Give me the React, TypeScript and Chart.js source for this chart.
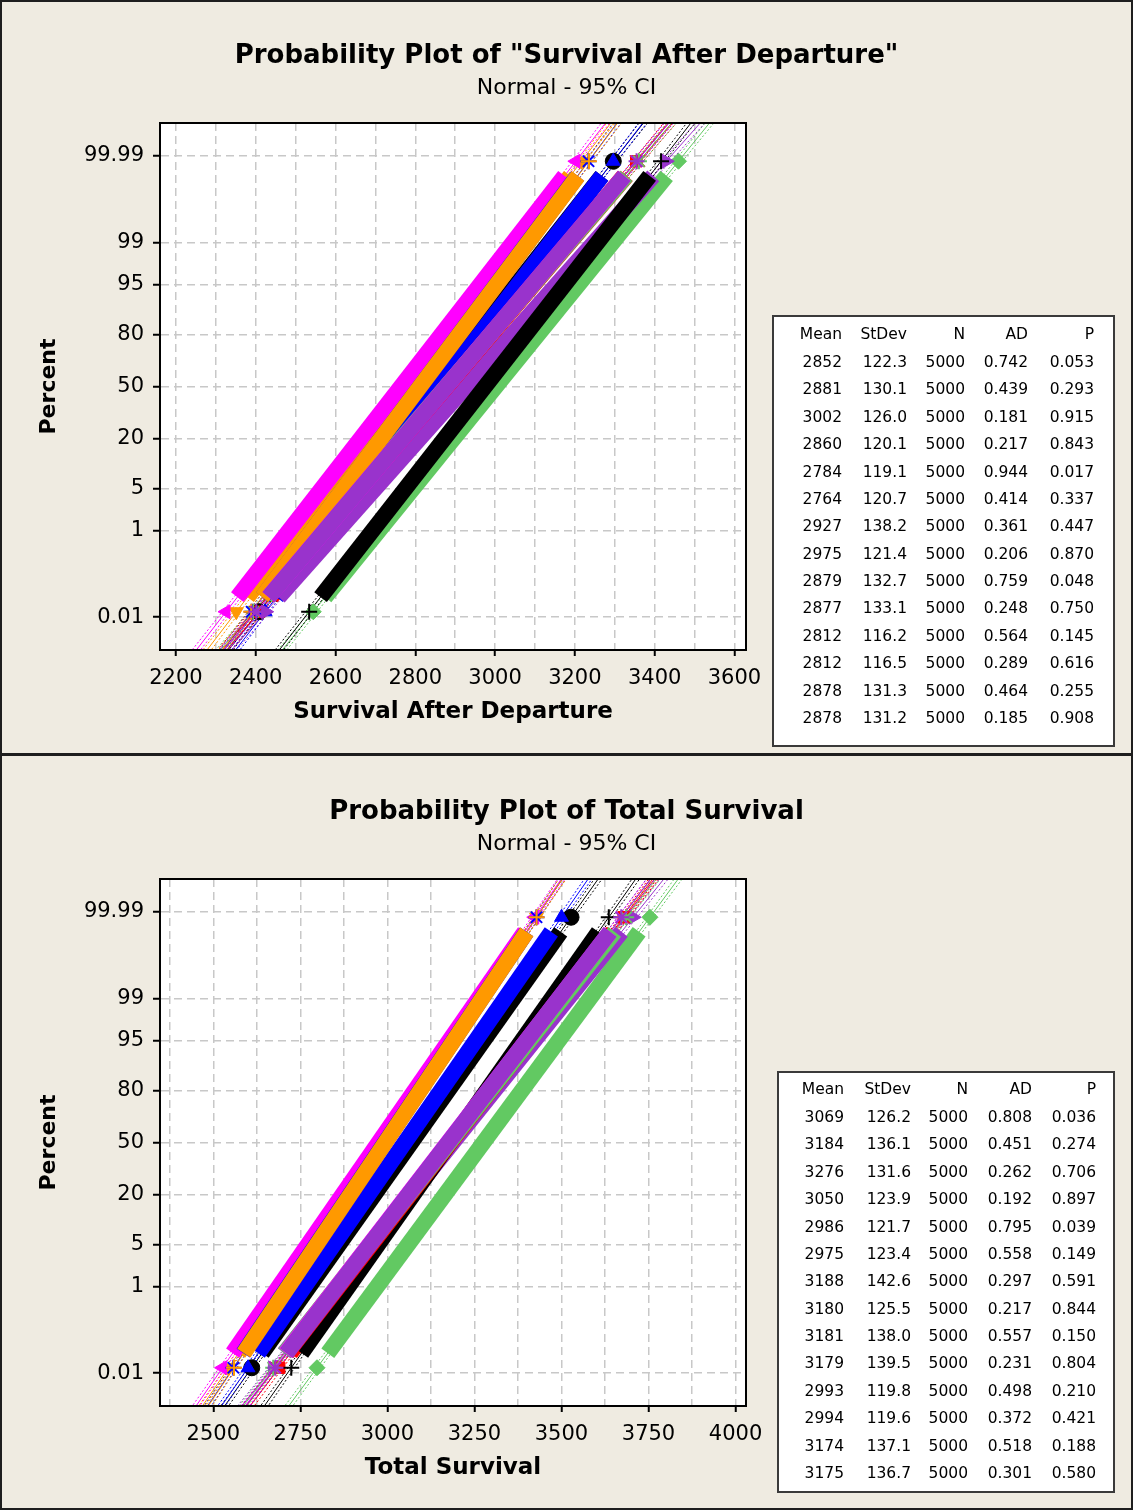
import React, { useEffect, useRef } from 'react';
import { Chart, registerables } from 'chart.js';

Chart.register(...registerables);

const FONT = "'DejaVu Sans', Verdana, sans-serif";
const BEIGE = '#EFEBE1';

// ---------- shared axis data ----------
const PERCENT_TICKS = [0.01, 1, 5, 20, 50, 80, 95, 99, 99.99];
const PERCENT_LABELS = ['0.01', '1', '5', '20', '50', '80', '95', '99', '99.99'];
const SUBTITLE = 'Normal - 95% CI';
const Y_TITLE = 'Percent';
const TABLE_HEADERS = ['Mean', 'StDev', 'N', 'AD', 'P'];

const SERIES_COLORS = ['#000000', '#FF0000', '#62C962', '#0000FF', '#FF9900', '#FF00FF', '#9933CC'];
const SERIES_SYMBOLS = [
  { style: 'circle', rot: 0, open: false },
  { style: 'rect', rot: 0, open: false },
  { style: 'rectRot', rot: 0, open: false },
  { style: 'triangle', rot: 0, open: false },
  { style: 'triangle', rot: 180, open: false },
  { style: 'triangle', rot: 270, open: false },
  { style: 'triangle', rot: 90, open: false },
  { style: 'cross', rot: 0, open: true },
  { style: 'crossRot', rot: 0, open: true },
  { style: 'star', rot: 0, open: true },
  { style: 'star', rot: 0, open: true },
  { style: 'cross', rot: 0, open: true },
  { style: 'crossRot', rot: 0, open: true },
  { style: 'star', rot: 0, open: true },
];

// ---------- top panel data ----------
const TOP_TITLE = 'Probability Plot of "Survival After Departure"';
const TOP_X_TITLE = 'Survival After Departure';
const TOP_X_GRID = [2200, 2300, 2400, 2500, 2600, 2700, 2800, 2900, 3000, 3100, 3200, 3300, 3400, 3500, 3600];
const TOP_X_LABELS = [2200, 2400, 2600, 2800, 3000, 3200, 3400, 3600];
const TOP_MEAN = [2852, 2881, 3002, 2860, 2784, 2764, 2927, 2975, 2879, 2877, 2812, 2812, 2878, 2878];
const TOP_STDEV = [122.3, 130.1, 126.0, 120.1, 119.1, 120.7, 138.2, 121.4, 132.7, 133.1, 116.2, 116.5, 131.3, 131.2];
const TOP_N = [5000, 5000, 5000, 5000, 5000, 5000, 5000, 5000, 5000, 5000, 5000, 5000, 5000, 5000];
const TOP_AD = [0.742, 0.439, 0.181, 0.217, 0.944, 0.414, 0.361, 0.206, 0.759, 0.248, 0.564, 0.289, 0.464, 0.185];
const TOP_P = [0.053, 0.293, 0.915, 0.843, 0.017, 0.337, 0.447, 0.870, 0.048, 0.750, 0.145, 0.616, 0.255, 0.908];

// ---------- bottom panel data ----------
const BOT_TITLE = 'Probability Plot of Total Survival';
const BOT_X_TITLE = 'Total Survival';
const BOT_X_GRID = [2375, 2500, 2625, 2750, 2875, 3000, 3125, 3250, 3375, 3500, 3625, 3750, 3875, 4000];
const BOT_X_LABELS = [2500, 2750, 3000, 3250, 3500, 3750, 4000];
const BOT_MEAN = [3069, 3184, 3276, 3050, 2986, 2975, 3188, 3180, 3181, 3179, 2993, 2994, 3174, 3175];
const BOT_STDEV = [126.2, 136.1, 131.6, 123.9, 121.7, 123.4, 142.6, 125.5, 138.0, 139.5, 119.8, 119.6, 137.1, 136.7];
const BOT_N = [5000, 5000, 5000, 5000, 5000, 5000, 5000, 5000, 5000, 5000, 5000, 5000, 5000, 5000];
const BOT_AD = [0.808, 0.451, 0.262, 0.192, 0.795, 0.558, 0.297, 0.217, 0.557, 0.231, 0.498, 0.372, 0.518, 0.301];
const BOT_P = [0.036, 0.274, 0.706, 0.897, 0.039, 0.149, 0.591, 0.844, 0.150, 0.804, 0.210, 0.421, 0.188, 0.580];

// z-levels where fitted line / confidence curves are evaluated
const FIT_Z = [-4.6, 4.6];
const CI_Z = [-4.6, -4, -3, -2, -1, 0, 1, 2, 3, 4, 4.6];

// inverse standard normal CDF (Acklam)
function probit(p: number): number {
  const a = [-39.69683028665376, 220.9460984245205, -275.9285104469687, 138.357751867269, -30.66479806614716, 2.506628277459239];
  const b = [-54.47609879822406, 161.5858368580409, -155.6989798598866, 66.80131188771972, -13.28068155328799];
  const c = [-0.007784894002430293, -0.3223964580411365, -2.400758277161838, -2.549671348283429, 4.374664141464968, 2.938163982447112];
  const d = [0.007784695709041462, 0.3224671290700398, 2.445134137142996, 3.754408661907416];
  const plow = 0.02425;
  if (p < plow) {
    const q = Math.sqrt(-2 * Math.log(p));
    return (((((c[0] * q + c[1]) * q + c[2]) * q + c[3]) * q + c[4]) * q + c[5]) / ((((d[0] * q + d[1]) * q + d[2]) * q + d[3]) * q + 1);
  }
  if (p <= 1 - plow) {
    const q = p - 0.5;
    const r = q * q;
    return ((((((a[0] * r + a[1]) * r + a[2]) * r + a[3]) * r + a[4]) * r + a[5]) * q) / (((((b[0] * r + b[1]) * r + b[2]) * r + b[3]) * r + b[4]) * r + 1);
  }
  const q = Math.sqrt(-2 * Math.log(1 - p));
  return -(((((c[0] * q + c[1]) * q + c[2]) * q + c[3]) * q + c[4]) * q + c[5]) / ((((d[0] * q + d[1]) * q + d[2]) * q + d[3]) * q + 1);
}

const Y_TICK_Z = PERCENT_TICKS.map((p) => probit(p / 100));

const framePlugin = {
  id: 'plotFrame',
  beforeDraw(chart: any) {
    const { ctx, chartArea: a } = chart;
    ctx.save();
    ctx.fillStyle = '#FFFFFF';
    ctx.fillRect(a.left, a.top, a.right - a.left, a.bottom - a.top);
    ctx.restore();
  },
  afterDraw(chart: any) {
    const { ctx, chartArea: a } = chart;
    ctx.save();
    ctx.strokeStyle = '#000000';
    ctx.lineWidth = 2;
    ctx.strokeRect(a.left, a.top, a.right - a.left, a.bottom - a.top);
    ctx.restore();
  },
};

type PanelProps = {
  top: number;
  title: string;
  xTitle: string;
  xMin: number;
  xMax: number;
  xGrid: number[];
  xLabels: number[];
  mean: number[];
  sd: number[];
  n: number[];
};

function buildDatasets(mean: number[], sd: number[], n: number[]) {
  const markers: any[] = [];
  const bands: any[] = [];
  const lines: any[] = [];
  for (let i = 0; i < mean.length; i++) {
    const color = SERIES_COLORS[i % SERIES_COLORS.length];
    const sym = SERIES_SYMBOLS[i % SERIES_SYMBOLS.length];
    const mu = mean[i];
    const s = sd[i];
    const N = n[i];
    const zEnd = probit((1 - 0.3) / (N + 0.4));
    const zBand = probit((2 - 0.3) / (N + 0.4));
    bands.push({
      data: [
        { x: mu + zBand * s, y: zBand },
        { x: mu - zBand * s, y: -zBand },
      ],
      showLine: true,
      borderColor: color,
      borderWidth: 16,
      pointRadius: 0,
      clip: 0,
    });
    markers.push({
      data: [
        { x: mu + zEnd * s, y: zEnd },
        { x: mu - zEnd * s, y: -zEnd },
      ],
      showLine: false,
      pointStyle: sym.style,
      rotation: sym.rot,
      pointRadius: 8,
      pointBackgroundColor: color,
      pointBorderColor: color,
      pointBorderWidth: sym.open ? 2 : 1,
      clip: 0,
    });
    lines.push({
      data: FIT_Z.map((z) => ({ x: mu + z * s, y: z })),
      showLine: true,
      borderColor: color,
      borderWidth: 1,
      pointRadius: 0,
      clip: 0,
    });
    const half = (z: number) => 1.96 * s * Math.sqrt(1 / N + (z * z) / (2 * (N - 1)));
    lines.push({
      data: CI_Z.map((z) => ({ x: mu + z * s - half(z), y: z })),
      showLine: true,
      borderColor: color,
      borderWidth: 1,
      borderDash: [2, 2],
      pointRadius: 0,
      clip: 0,
    });
    lines.push({
      data: CI_Z.map((z) => ({ x: mu + z * s + half(z), y: z })),
      showLine: true,
      borderColor: color,
      borderWidth: 1,
      borderDash: [2, 2],
      pointRadius: 0,
      clip: 0,
    });
  }
  // index 0 is drawn on top in Chart.js
  return [...markers.reverse(), ...bands.reverse(), ...lines.reverse()];
}

function ProbPlot(props: PanelProps) {
  const ref = useRef<HTMLCanvasElement>(null);
  useEffect(() => {
    const canvas = ref.current;
    if (!canvas) return;
    const { xGrid, xLabels } = props;
    const gridColor = '#C8C8C8';
    const chart = new Chart(canvas, {
      type: 'scatter',
      data: { datasets: buildDatasets(props.mean, props.sd, props.n) },
      plugins: [framePlugin],
      options: {
        animation: false,
        responsive: false,
        events: [],
        layout: { padding: { left: 0, right: 0, top: 0, bottom: 0 } },
        plugins: {
          legend: { display: false },
          tooltip: { enabled: false },
          title: {
            display: true,
            text: props.title,
            color: '#000',
            font: { family: FONT, size: 26, weight: 'bold' },
            padding: { top: 41, bottom: 3.1 },
          },
          subtitle: {
            display: true,
            text: SUBTITLE,
            color: '#000',
            font: { family: FONT, size: 22, weight: 'normal' },
            padding: { top: 0, bottom: 21.3 },
          },
        },
        scales: {
          x: {
            type: 'linear',
            position: 'bottom',
            min: props.xMin,
            max: props.xMax,
            afterBuildTicks: (s: any) => {
              s.ticks = xGrid.map((v) => ({ value: v }));
            },
            afterFit: (s: any) => {
              s.height = 105;
            },
            ticks: {
              autoSkip: false,
              maxRotation: 0,
              color: '#000',
              font: { family: FONT, size: 21 },
              padding: 10,
              callback: (v: any) => (xLabels.includes(Number(v)) ? String(v) : ''),
            },
            grid: {
              color: gridColor,
              lineWidth: 1.5,
              drawTicks: true,
              tickLength: 6,
              tickWidth: 2,
              tickColor: (ctx: any) => (ctx.tick && xLabels.includes(ctx.tick.value) ? '#000' : 'rgba(0,0,0,0)'),
              tickBorderDash: [],
            },
            border: { display: true, color: '#000', width: 2, dash: [8, 5] },
            title: {
              display: true,
              text: props.xTitle,
              color: '#000',
              font: { family: FONT, size: 23, weight: 'bold' },
              padding: { top: 0, bottom: 29 },
            },
          },
          y: {
            type: 'linear',
            position: 'left',
            min: -4.25,
            max: 4.25,
            afterBuildTicks: (s: any) => {
              s.ticks = Y_TICK_Z.map((v) => ({ value: v }));
            },
            afterFit: (s: any) => {
              s.width = 160;
            },
            ticks: {
              autoSkip: false,
              color: '#000',
              font: { family: FONT, size: 21 },
              padding: 9,
              callback: (_v: any, i: number) => PERCENT_LABELS[i],
            },
            grid: {
              color: gridColor,
              lineWidth: 1.5,
              drawTicks: true,
              tickLength: 7,
              tickWidth: 2,
              tickColor: '#000',
              tickBorderDash: [],
            },
            border: { display: true, color: '#000', width: 2, dash: [8, 5] },
            title: {
              display: true,
              text: Y_TITLE,
              color: '#000',
              font: { family: FONT, size: 22, weight: 'bold' },
              padding: { top: 36, bottom: 0 },
            },
          },
          yR: {
            type: 'linear',
            position: 'right',
            display: true,
            ticks: { display: false },
            grid: { display: false },
            border: { display: false },
            afterFit: (s: any) => {
              s.width = 387;
            },
          },
        },
      } as any,
    });
    return () => chart.destroy();
  }, []);
  return (
    <canvas
      ref={ref}
      width={1133}
      height={755}
      style={{ position: 'absolute', left: 0, top: props.top, width: 1133, height: 755 }}
    />
  );
}

type TableGeom = {
  left: number;
  top: number;
  right: number;
  bottom: number;
  cols: number[];
  headerY: number;
  rowY0: number;
  rowStep: number;
};

function StatsTable(props: { geom: TableGeom; mean: number[]; sd: number[]; n: number[]; ad: number[]; p: number[] }) {
  const { geom, mean, sd, n, ad, p } = props;
  const cells: React.ReactNode[] = [];
  const cell = (key: string, text: string, col: number, y: number) => (
    <div
      key={key}
      style={{
        position: 'absolute',
        left: geom.cols[col] - 120,
        width: 120,
        top: y - 9,
        height: 18,
        lineHeight: '18px',
        textAlign: 'right',
        fontFamily: FONT,
        fontSize: 15.5,
        color: '#000',
        whiteSpace: 'nowrap',
      }}
    >
      {text}
    </div>
  );
  TABLE_HEADERS.forEach((h, c) => cells.push(cell('h' + c, h, c, geom.headerY)));
  for (let r = 0; r < mean.length; r++) {
    const y = geom.rowY0 + r * geom.rowStep;
    const vals = [String(mean[r]), sd[r].toFixed(1), String(n[r]), ad[r].toFixed(3), p[r].toFixed(3)];
    vals.forEach((v, c) => cells.push(cell('r' + r + 'c' + c, v, c, y)));
  }
  return (
    <>
      <div
        style={{
          position: 'absolute',
          left: geom.left,
          top: geom.top,
          width: geom.right - geom.left,
          height: geom.bottom - geom.top,
          background: '#FFFFFF',
          border: '2px solid #3A3A3A',
          boxSizing: 'border-box',
        }}
      />
      {cells}
    </>
  );
}

const TOP_TABLE: TableGeom = {
  left: 772,
  top: 315,
  right: 1115,
  bottom: 747,
  cols: [842, 907, 965, 1028, 1094],
  headerY: 334,
  rowY0: 362,
  rowStep: 27.38,
};
const BOT_TABLE: TableGeom = {
  left: 777,
  top: 1071,
  right: 1115,
  bottom: 1493,
  cols: [844, 911, 968, 1032, 1096],
  headerY: 1089,
  rowY0: 1117,
  rowStep: 27.38,
};

export default function App() {
  useEffect(() => {
    document.body.style.margin = '0';
  }, []);
  return (
    <div style={{ position: 'relative', width: 1133, height: 1510, background: BEIGE, overflow: 'hidden' }}>
      <ProbPlot
        top={0}
        title={TOP_TITLE}
        xTitle={TOP_X_TITLE}
        xMin={2160}
        xMax={3629}
        xGrid={TOP_X_GRID}
        xLabels={TOP_X_LABELS}
        mean={TOP_MEAN}
        sd={TOP_STDEV}
        n={TOP_N}
      />
      <ProbPlot
        top={756}
        title={BOT_TITLE}
        xTitle={BOT_X_TITLE}
        xMin={2347}
        xMax={4030}
        xGrid={BOT_X_GRID}
        xLabels={BOT_X_LABELS}
        mean={BOT_MEAN}
        sd={BOT_STDEV}
        n={BOT_N}
      />
      <StatsTable geom={TOP_TABLE} mean={TOP_MEAN} sd={TOP_STDEV} n={TOP_N} ad={TOP_AD} p={TOP_P} />
      <StatsTable geom={BOT_TABLE} mean={BOT_MEAN} sd={BOT_STDEV} n={BOT_N} ad={BOT_AD} p={BOT_P} />
      <div style={{ position: 'absolute', left: 0, top: 753, width: 1133, height: 3, background: '#1E1E1E' }} />
      <div
        style={{
          position: 'absolute',
          left: 0,
          top: 0,
          width: 1133,
          height: 1510,
          border: '2px solid #1E1E1E',
          boxSizing: 'border-box',
          pointerEvents: 'none',
        }}
      />
    </div>
  );
}
